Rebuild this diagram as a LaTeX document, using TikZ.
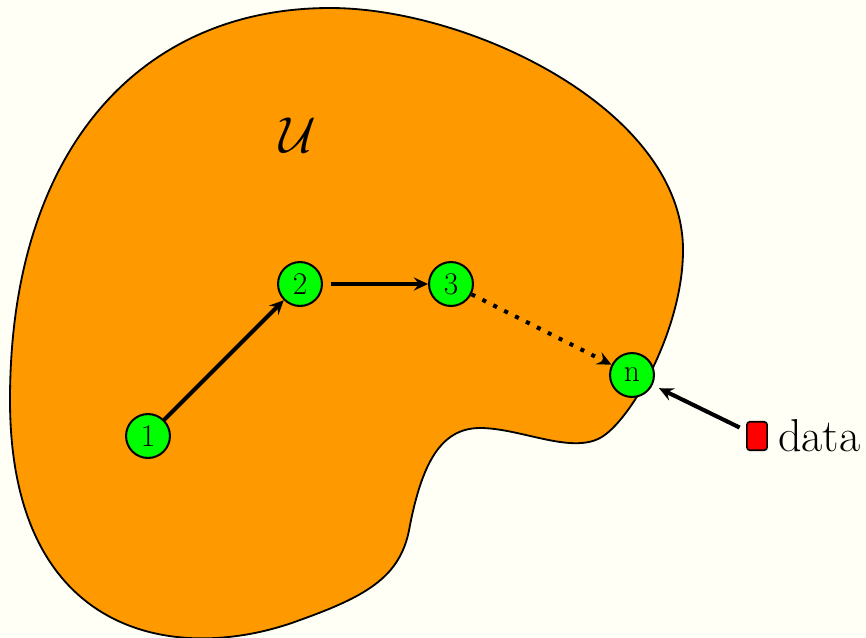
\documentclass[tikz,border=0pt]{standalone}
\usepackage{amsmath,amssymb}
\usetikzlibrary{arrows.meta,positioning}
\definecolor{bgcol}{RGB}{255,255,245}
\definecolor{blobcol}{RGB}{255,153,0}
\definecolor{nodecol}{RGB}{0,255,0}
\begin{document}
\begin{tikzpicture}[x=0.492pt, y=-0.492pt, >={Stealth[length=7pt,width=6.5pt,inset=2.5pt]},
	state/.style={circle, draw, line width=1pt, fill=nodecol, minimum size=21.6pt, inner sep=0pt, font=\fontsize{15.5}{18}\selectfont},
	link/.style={->, line width=2pt}]
	\fill[bgcol] (0,0) rectangle (866,637);
	\useasboundingbox (0,0) rectangle (866,637);
	\draw[fill=blobcol, line width=0.9pt] (330,8) .. controls (470,8) and (683,110) .. (683,250) .. controls (683,330) and (630,422) .. (600,438) .. controls (570,454) and (520,428) .. (480,428) .. controls (440,428) and (422,465) .. (410,525) .. controls (402,575) and (370,595) .. (300,620) .. controls (180,665) and (10,640) .. (10,400) .. controls (10,150) and (140,8) .. (330,8) -- cycle;
	\node[font=\Huge] (U) at (298,135) {$\mathcal{U}$};
	\foreach \n/\x/\y/\t in {1/148/436/1, 2/300/284/2, 3/451/284/3, 4/632/375/n} {\node[state] (s\n) at (\x,\y) {\t};}
	\draw[link] (s1) -- (s2);
	\draw[link, shorten <=4pt] (s2) -- (s3);
	\draw[link, dash pattern=on 2pt off 4pt] (s3) -- (s4);
	\node[draw, fill=red, line width=0.8pt, rounded corners=1.5pt, minimum width=10pt, minimum height=14pt, inner sep=0pt] (box) at (757,436) {};
	\node[font=\fontsize{22.7}{27}\selectfont, right=1.5pt of box] (data) {data};
	\draw[link, shorten <=3.5pt, shorten >=3.5pt] (box) -- (s4);
\end{tikzpicture}
\end{document}
